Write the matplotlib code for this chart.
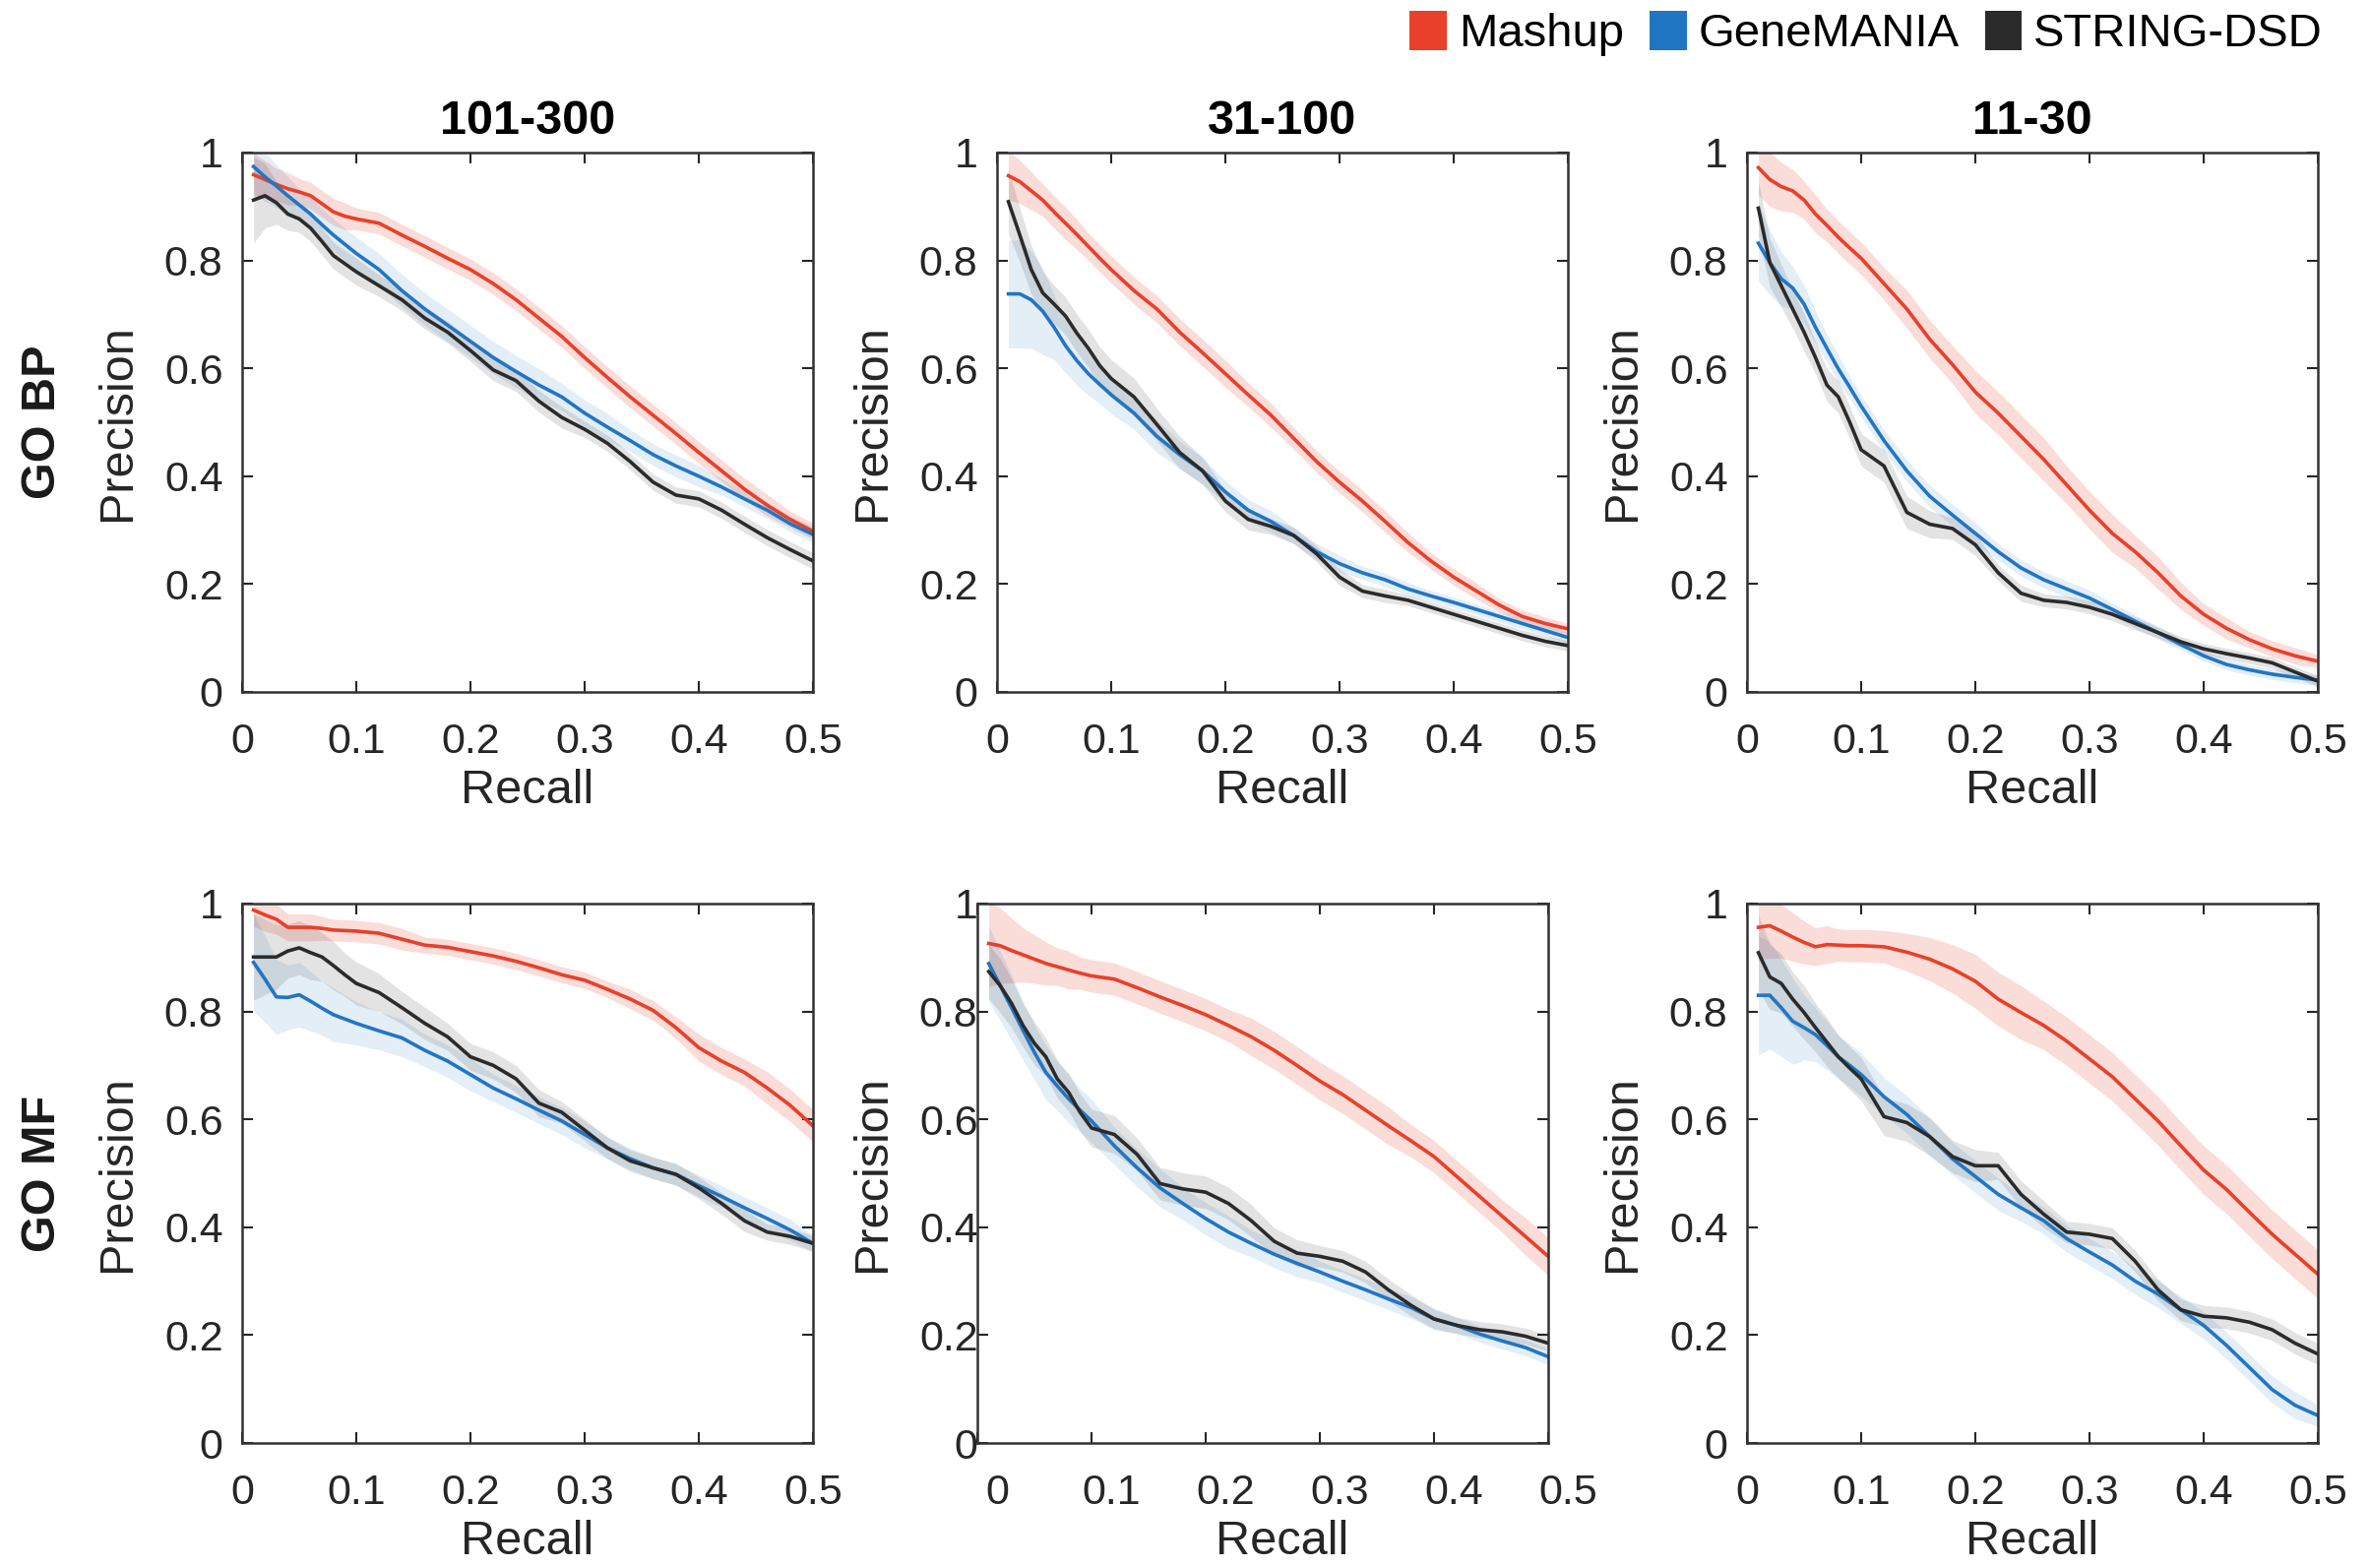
import matplotlib.pyplot as plt
import matplotlib.transforms as mtransforms
from matplotlib.patches import Patch
from matplotlib.ticker import FormatStrFormatter

plt.rcParams['font.family'] = ['Liberation Sans', 'DejaVu Sans']

# recall grid shared by every curve
recall = [0.01, 0.02, 0.03, 0.04, 0.05, 0.06, 0.07, 0.08, 0.09, 0.10,
          0.12, 0.14, 0.16, 0.18, 0.20, 0.22, 0.24, 0.26, 0.28, 0.30,
          0.32, 0.34, 0.36, 0.38, 0.40, 0.42, 0.44, 0.46, 0.48, 0.50]

methods = ["Mashup", "GeneMANIA", "STRING-DSD"]
colors = ["#E8402A", "#2176C4", "#2B2B2B"]
band_alpha = [0.18, 0.12, 0.13]

col_titles = ["101-300", "31-100", "11-30"]
row_titles = ["GO BP", "GO MF"]

# ---- GO BP ----
bp_101_mashup = [.959, .950, .941, .933, .927, .920, .905, .890, .882, .877,
                 .869, .847, .826, .804, .783, .757, .727, .693, .659, .620,
                 .583, .547, .513, .479, .444, .410, .376, .346, .320, .298]
bp_101_genemania = [.974, .955, .938, .920, .903, .886, .866, .847, .830, .813,
                    .783, .744, .710, .680, .650, .620, .594, .569, .547, .517,
                    .491, .466, .440, .419, .400, .380, .358, .337, .312, .292]
bp_101_string = [.912, .920, .907, .886, .877, .860, .835, .809, .794, .779,
                 .753, .727, .693, .667, .633, .597, .577, .539, .509, .487,
                 .461, .427, .389, .365, .358, .337, .311, .286, .264, .243]

bp_31_mashup = [.957, .946, .929, .912, .890, .869, .848, .826, .804, .783,
                .744, .710, .667, .629, .590, .551, .513, .470, .427, .389,
                .354, .316, .277, .243, .213, .187, .161, .140, .127, .117]
bp_31_genemania = [.738, .738, .727, .706, .676, .642, .614, .590, .570, .551,
                   .517, .474, .440, .410, .371, .337, .316, .290, .260, .238,
                   .221, .208, .191, .178, .166, .153, .140, .127, .114, .101]
bp_31_string = [.909, .847, .783, .740, .719, .697, .665, .637, .605, .581,
                .547, .496, .444, .410, .354, .320, .307, .290, .256, .213,
                .187, .178, .170, .157, .144, .131, .118, .105, .094, .086]

bp_11_mashup = [.972, .950, .937, .929, .912, .886, .865, .843, .823, .804,
                .757, .710, .654, .607, .556, .517, .474, .431, .384, .337,
                .294, .260, .221, .178, .144, .118, .097, .080, .067, .057]
bp_11_genemania = [.832, .796, .766, .749, .719, .676, .637, .599, .565, .530,
                   .466, .410, .363, .328, .294, .260, .230, .208, .191, .174,
                   .153, .131, .110, .088, .067, .051, .041, .033, .027, .022]
bp_11_string = [.897, .796, .753, .710, .667, .620, .569, .547, .500, .449,
                .419, .333, .311, .303, .273, .221, .183, .170, .166, .157,
                .144, .127, .110, .093, .080, .071, .063, .054, .037, .020]

# ---- GO MF ----
mf_101_mashup = [.988, .979, .971, .956, .956, .956, .954, .951, .950, .949,
                 .945, .934, .923, .919, .911, .903, .893, .881, .868, .858,
                 .841, .823, .802, .770, .733, .708, .687, .658, .626, .588]
mf_101_genemania = [.891, .860, .827, .826, .831, .819, .806, .794, .786, .778,
                    .764, .751, .728, .708, .683, .658, .638, .617, .597, .572,
                    .547, .527, .510, .498, .477, .457, .436, .416, .395, .370]
mf_101_string = [.901, .901, .901, .912, .918, .909, .901, .885, .868, .852,
                 .835, .807, .778, .753, .716, .700, .675, .630, .613, .580,
                 .547, .523, .510, .498, .473, .444, .412, .391, .383, .370]

mf_31_mashup = [.926, .922, .913, .905, .897, .889, .883, .877, .871, .866,
                .860, .844, .827, .811, .794, .774, .753, .728, .700, .671,
                .646, .617, .588, .560, .531, .494, .457, .420, .383, .346]
mf_31_genemania = [.889, .848, .807, .765, .724, .687, .662, .638, .617, .597,
                   .551, .510, .473, .444, .416, .391, .370, .350, .333, .317,
                   .300, .284, .267, .251, .230, .218, .202, .189, .177, .160]
mf_31_string = [.874, .848, .815, .774, .741, .716, .675, .650, .613, .584,
                .572, .535, .481, .471, .465, .444, .412, .374, .352, .346,
                .337, .317, .284, .255, .230, .218, .210, .206, .198, .185]

mf_11_mashup = [.956, .959, .949, .938, .928, .920, .924, .923, .922, .922,
                .920, .910, .897, .879, .856, .823, .798, .774, .745, .712,
                .679, .638, .597, .551, .506, .470, .428, .387, .350, .313]
mf_11_genemania = [.830, .830, .807, .782, .770, .757, .737, .716, .700, .683,
                   .642, .609, .568, .527, .494, .461, .436, .412, .379, .354,
                   .330, .300, .276, .247, .218, .181, .140, .099, .070, .051]
mf_11_string = [.909, .864, .852, .823, .798, .770, .743, .716, .695, .675,
                .605, .594, .568, .531, .514, .514, .461, .424, .391, .387,
                .379, .337, .284, .247, .235, .232, .224, .210, .185, .165]

# ---- half widths of the shaded bands ----
bp_101_bands = [
    [.04, .035, .03, .03, .025, .025, .025, .025, .025, .02, .02, .02, .02, .02, .02,
     .02, .02, .02, .02, .02, .02, .02, .02, .02, .02, .02, .02, .02, .015, .015],
    [.05, .045, .04, .035, .03, .03, .03, .03, .03, .03, .03, .03, .03, .03, .03,
     .03, .03, .03, .025, .025, .025, .02, .02, .02, .02, .015, .015, .015, .015, .015],
    [.08, .06, .04, .03, .025, .025, .025, .025, .025, .025, .02, .02, .02, .02, .02,
     .02, .02, .02, .02, .015, .015, .015, .015, .015, .015, .015, .015, .015, .015, .015],
]
bp_31_bands = [
    [.045, .04, .035, .03, .03, .03, .028, .025, .025, .025, .025, .025, .025, .025, .025,
     .022, .022, .02, .02, .02, .02, .02, .018, .015, .015, .015, .012, .012, .012, .01],
    [.1, .1, .09, .08, .06, .05, .045, .04, .035, .035, .03, .03, .025, .025, .02,
     .02, .02, .015, .015, .015, .012, .012, .012, .01, .01, .01, .01, .01, .01, .01],
    [.06, .05, .045, .04, .035, .035, .035, .035, .035, .035, .035, .03, .03, .025, .02,
     .02, .015, .015, .015, .015, .012, .012, .01, .01, .01, .01, .01, .01, .01, .01],
]
bp_11_bands = [
    [.05, .05, .045, .04, .035, .035, .03, .03, .03, .03, .03, .035, .035, .035, .04,
     .04, .04, .04, .035, .035, .035, .03, .03, .025, .02, .02, .015, .015, .015, .012],
    [.07, .06, .05, .04, .035, .03, .025, .025, .02, .02, .02, .02, .02, .02, .02,
     .015, .015, .015, .015, .015, .012, .012, .012, .01, .01, .01, .01, .01, .01, .01],
    [.05, .045, .04, .035, .035, .03, .03, .03, .03, .03, .03, .03, .025, .02, .02,
     .015, .015, .012, .012, .012, .012, .012, .01, .01, .01, .01, .01, .01, .01, .01],
]
mf_101_bands = [
    [.03, .03, .028, .025, .025, .025, .022, .02, .02, .02, .02, .02, .015, .015, .015,
     .015, .015, .015, .015, .015, .015, .018, .018, .02, .025, .025, .025, .03, .03, .03],
    [.09, .08, .07, .06, .06, .055, .05, .05, .045, .04, .035, .035, .03, .03, .03,
     .025, .025, .025, .025, .025, .02, .02, .02, .02, .02, .02, .02, .02, .02, .015],
    [.08, .07, .06, .05, .05, .05, .045, .045, .04, .04, .035, .03, .03, .025, .025,
     .025, .025, .025, .02, .02, .02, .02, .02, .02, .02, .02, .02, .015, .015, .015],
]
mf_31_bands = [
    [.08, .07, .06, .05, .045, .04, .035, .035, .03, .03, .03, .03, .03, .03, .03,
     .03, .035, .035, .035, .035, .035, .035, .035, .03, .03, .03, .03, .03, .035, .035],
    [.07, .065, .06, .055, .05, .05, .045, .045, .04, .04, .035, .035, .035, .03, .03,
     .03, .025, .025, .025, .02, .02, .02, .02, .02, .02, .015, .015, .015, .015, .015],
    [.05, .05, .045, .04, .04, .035, .035, .035, .035, .035, .035, .03, .03, .03, .03,
     .03, .03, .025, .025, .02, .02, .02, .02, .02, .018, .015, .015, .015, .015, .015],
]
mf_11_bands = [
    [.06, .06, .05, .045, .04, .035, .035, .03, .03, .03, .03, .035, .04, .045, .05,
     .05, .05, .045, .045, .045, .045, .045, .045, .045, .045, .045, .045, .045, .045, .045],
    [.11, .1, .09, .08, .06, .05, .045, .04, .04, .04, .035, .035, .035, .03, .03,
     .03, .025, .025, .025, .025, .025, .025, .025, .025, .025, .025, .025, .025, .025, .02],
    [.07, .06, .055, .05, .05, .045, .045, .04, .04, .04, .035, .035, .035, .03, .03,
     .025, .025, .025, .02, .02, .02, .02, .02, .02, .02, .02, .02, .02, .02, .02],
]

panels = [
    [([bp_101_mashup, bp_101_genemania, bp_101_string], bp_101_bands),
     ([bp_31_mashup, bp_31_genemania, bp_31_string], bp_31_bands),
     ([bp_11_mashup, bp_11_genemania, bp_11_string], bp_11_bands)],
    [([mf_101_mashup, mf_101_genemania, mf_101_string], mf_101_bands),
     ([mf_31_mashup, mf_31_genemania, mf_31_string], mf_31_bands),
     ([mf_11_mashup, mf_11_genemania, mf_11_string], mf_11_bands)],
]

W, H = 2408, 1593
fig = plt.figure(figsize=(W / 100, H / 100), dpi=100)

axis_col = "#262626"
ax_w, ax_h = 580, 548
col_left = [246, 1013, 1775]
row_top = [155, 918]

for r in range(2):
    for c in range(3):
        left = col_left[c]
        shift = 0
        if r == 1 and c == 1:
            # this panel's frame sits a little left of its labels in the original
            shift = 20
            left = left - shift
        top = row_top[r]
        ax = fig.add_axes([left / W, 1 - (top + ax_h) / H, ax_w / W, ax_h / H])
        series, bands = panels[r][c]
        for vals, hw, col, a in zip(series, bands, colors, band_alpha):
            lo = [v - h for v, h in zip(vals, hw)]
            hi = [v + h for v, h in zip(vals, hw)]
            ax.fill_between(recall, lo, hi, color=col, alpha=a, linewidth=0)
        for vals, col in zip(series, colors):
            ax.plot(recall, vals, color=col, linewidth=2.6)

        ax.set_xlim(0, 0.5)
        ax.set_ylim(0, 1)
        ax.set_xticks([0, 0.1, 0.2, 0.3, 0.4, 0.5])
        ax.set_yticks([0, 0.2, 0.4, 0.6, 0.8, 1])
        ax.xaxis.set_major_formatter(FormatStrFormatter('%g'))
        ax.yaxis.set_major_formatter(FormatStrFormatter('%g'))
        ax.tick_params(direction='in', top=True, right=True, length=8, width=1.5,
                       color=axis_col, labelcolor=axis_col, labelsize=31)
        ax.tick_params(axis='x', pad=22)
        ax.tick_params(axis='y', pad=14)
        for sp in ax.spines.values():
            sp.set_linewidth(1.8)
            sp.set_color("#333333")

        ax.set_xlabel("Recall", fontsize=35, color=axis_col)
        ax.xaxis.set_label_coords(0.5 + shift / ax_w, -0.142)
        ax.set_ylabel("Precision", fontsize=35, color=axis_col)
        ax.yaxis.set_label_coords(-0.18 + shift / ax_w, 0.5)

        if shift:
            off = mtransforms.ScaledTranslation(shift / 100, 0, fig.dpi_scale_trans)
            for lab in ax.get_xticklabels() + ax.get_yticklabels():
                lab.set_transform(lab.get_transform() + off)

        if r == 0:
            ax.set_title(col_titles[c], fontsize=35, fontweight='bold', pad=14)

    fig.text(44 / W, 1 - (row_top[r] + ax_h / 2) / H, row_titles[r], rotation=90,
             ha='center', va='center', fontsize=35, fontweight='bold', color="#1a1a1a")

handles = [Patch(facecolor=col, edgecolor='none') for col in colors]
fig.legend(handles, methods, loc='center right', bbox_to_anchor=(2360 / W, 1 - 34 / H),
           ncol=3, frameon=False, fontsize=34, handlelength=0.8, handleheight=0.95,
           handletextpad=0.25, columnspacing=0.55, borderpad=0, borderaxespad=0)

fig.savefig("out.png", dpi=100, facecolor="white")
